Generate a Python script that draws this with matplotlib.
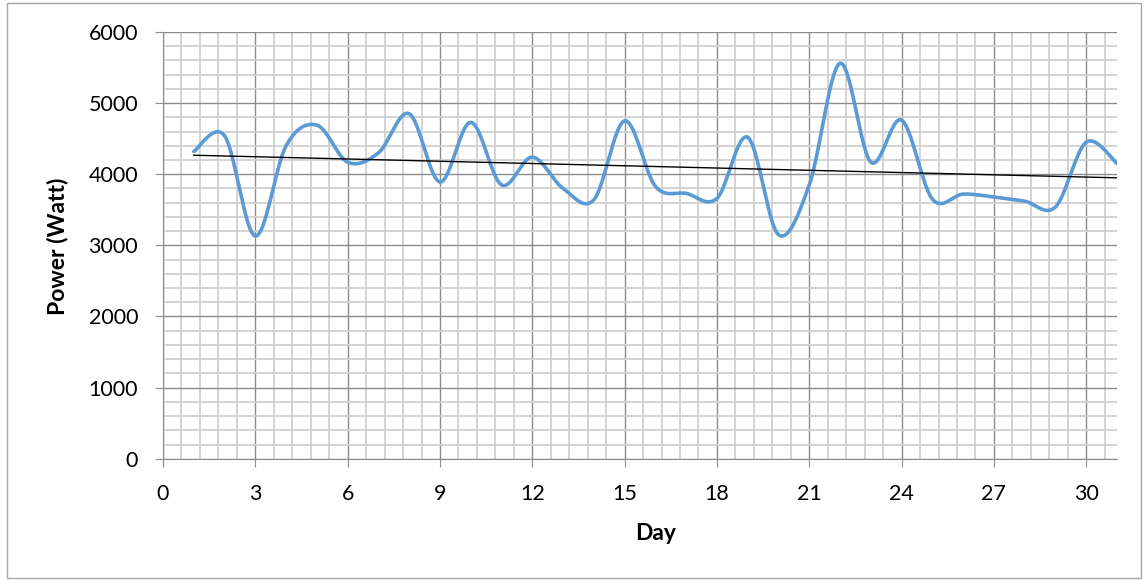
import numpy as np
import matplotlib.pyplot as plt
from matplotlib.patches import Rectangle
from matplotlib.ticker import MultipleLocator

# daily power readings
days = np.arange(1, 32)
power = [4320, 4540, 3130, 4400, 4690, 4170, 4300, 4850, 3890, 4730,
         3850, 4240, 3800, 3640, 4750, 3830, 3730, 3660, 4520, 3150,
         3850, 5560, 4170, 4760, 3650, 3720, 3680, 3620, 3540, 4450,
         4150]

xTicks = np.arange(0, 31, 3)
yTicks = np.arange(0, 6001, 1000)


def smoothLine(x, y, steps=20):
    # Excel style smoothed line (Catmull-Rom through every point)
    x = np.asarray(x, float)
    y = np.asarray(y, float)
    px = np.concatenate(([x[0]], x, [x[-1]]))
    py = np.concatenate(([y[0]], y, [y[-1]]))
    outX, outY = [], []
    t = np.linspace(0, 1, steps, endpoint=False)
    for i in range(1, len(px) - 2):
        for P, out in ((px, outX), (py, outY)):
            p0, p1, p2, p3 = P[i - 1], P[i], P[i + 1], P[i + 2]
            c1 = p1 + (p2 - p0) / 6.0
            c2 = p2 - (p3 - p1) / 6.0
            out.extend((1 - t) ** 3 * p1 + 3 * (1 - t) ** 2 * t * c1
                       + 3 * (1 - t) * t ** 2 * c2 + t ** 3 * p2)
    outX.append(x[-1])
    outY.append(y[-1])
    return np.array(outX), np.array(outY)


plt.rcParams['font.family'] = ['Lato', 'DejaVu Sans']
fontsize = 15.5

fig = plt.figure(figsize=(11.48, 5.8), dpi=100)
ax = fig.add_axes([0.142, 0.209, 0.831, 0.736])

# outer chart border
fig.patches.append(Rectangle((0.006, 0.003), 0.988, 0.991, transform=fig.transFigure,
                             fill=False, edgecolor='#a6a6a6', linewidth=1.0))

sx, sy = smoothLine(days, power)
ax.plot(sx, sy, color='#5b9bd5', linewidth=2.6, solid_capstyle='round', zorder=3)

# linear trendline
k, b = np.polyfit(days, power, 1)
ax.plot([days[0], days[-1]], [k * days[0] + b, k * days[-1] + b],
        color='black', linewidth=1.0, zorder=4)

ax.set_xlim(0, 31)
ax.set_ylim(0, 6000)
ax.set_xticks(xTicks)
ax.set_yticks(yTicks)
ax.xaxis.set_minor_locator(MultipleLocator(0.6))
ax.yaxis.set_minor_locator(MultipleLocator(200))

ax.grid(True, which='minor', color='#d0d0d0', linewidth=1.3)
ax.grid(True, which='major', color='#8c8c8c', linewidth=1.0)
ax.set_axisbelow(True)

ax.spines['right'].set_color('none')
ax.spines['top'].set_color('none')
ax.spines['left'].set_color('#8c8c8c')
ax.spines['bottom'].set_color('#8c8c8c')

ax.tick_params(which='major', length=6, color='#8c8c8c', labelsize=fontsize)
ax.tick_params(axis='x', which='major', pad=12)
ax.tick_params(axis='y', which='major', pad=12)
ax.tick_params(which='minor', length=0)

fig.text(0.5715, 1 - 534 / 580, 'Day', fontweight='bold', fontsize=fontsize + 1,
         ha='center', va='center')
fig.text(58 / 1148, 1 - 246 / 580, 'Power (Watt)', fontweight='bold', fontsize=fontsize + 1,
         ha='center', va='center', rotation=90)

fig.savefig('out.png', dpi=100)
